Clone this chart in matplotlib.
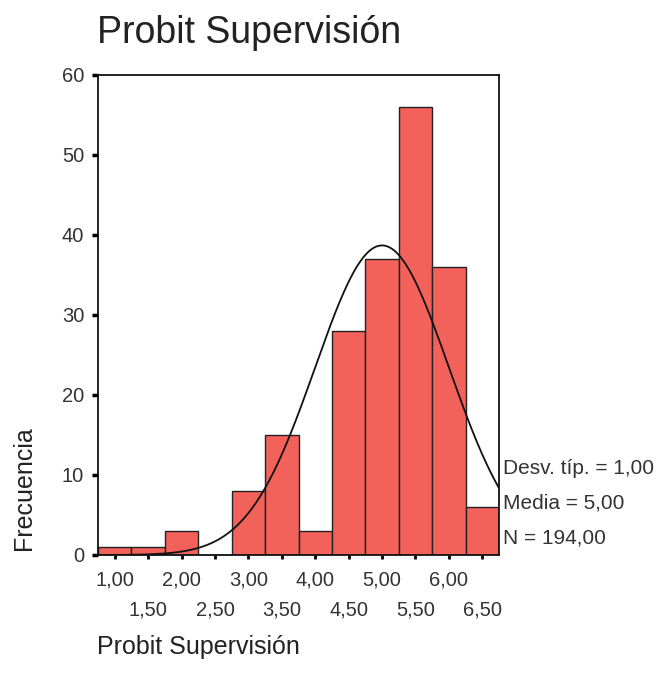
import numpy as np
import matplotlib
matplotlib.use("Agg")
import matplotlib.pyplot as plt

plt.rcParams['font.family'] = ['Liberation Sans', 'DejaVu Sans']

bin_centers = [1.0, 1.5, 2.0, 2.5, 3.0, 3.5, 4.0, 4.5, 5.0, 5.5, 6.0, 6.5]
counts = [1, 1, 3, 0, 8, 15, 3, 28, 37, 56, 36, 6]
bin_width = 0.5
mean, sd, n = 5.0, 1.0, 194
major_labels = ['1,00', '2,00', '3,00', '4,00', '5,00', '6,00']
minor_labels = ['1,50', '2,50', '3,50', '4,50', '5,50', '6,50']
y_ticks = [0, 10, 20, 30, 40, 50, 60]
stats_lines = ['Desv. típ. = 1,00', 'Media = 5,00', 'N = 194,00']

W, H = 660, 688
fig = plt.figure(figsize=(W / 100, H / 100), dpi=100)
ax = fig.add_axes([98 / W, 1 - 555 / H, (499 - 98) / W, (555 - 75) / H])

ax.bar(bin_centers, counts, width=bin_width, color='#F2625A', edgecolor='#222222', linewidth=1.0, zorder=2)

xs = np.linspace(0.75, 6.75, 400)
ys = n * bin_width * np.exp(-0.5 * ((xs - mean) / sd) ** 2) / (sd * np.sqrt(2 * np.pi))
ax.plot(xs, ys, color='#111111', linewidth=1.3, zorder=3)

ax.set_xlim(0.75, 6.75)
ax.set_ylim(0, 60)
ax.set_yticks(y_ticks)
ax.set_yticklabels([str(v) for v in y_ticks], fontsize=14.5, color='#333333')
ax.tick_params(axis='y', direction='out', length=4, width=2.5, pad=6)

ax.set_xticks([1, 2, 3, 4, 5, 6])
ax.set_xticklabels(major_labels, fontsize=14.5, color='#333333')
ax.set_xticks([1.5, 2.5, 3.5, 4.5, 5.5, 6.5], minor=True)
ax.set_xticklabels(minor_labels, minor=True, fontsize=14.5, color='#333333')
ax.tick_params(axis='x', which='major', direction='out', length=3, width=2, pad=8)
ax.tick_params(axis='x', which='minor', direction='out', length=3, width=2, pad=30)

for s in ax.spines.values():
    s.set_linewidth(1.3)
    s.set_color('#111111')

fig.text(97 / W, 1 - 33 / H, 'Probit Supervisión', fontsize=27, ha='left', va='center', color='#222222')
fig.text(97 / W, 1 - 647 / H, 'Probit Supervisión', fontsize=18, ha='left', va='center', color='#222222')
fig.text(24 / W, 1 - 488 / H, 'Frecuencia', fontsize=18, rotation=90, ha='center', va='center', color='#222222')

for i, line in enumerate(stats_lines):
    fig.text(503 / W, 1 - (468 + 35 * i) / H, line, fontsize=15, ha='left', va='center', color='#333333')

fig.savefig('out.png', dpi=100, facecolor='white')
